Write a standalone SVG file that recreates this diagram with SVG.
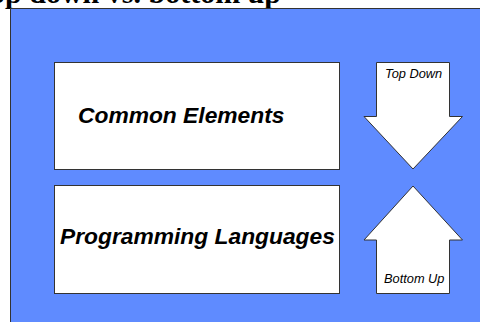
<svg xmlns="http://www.w3.org/2000/svg" width="480" height="322" viewBox="0 0 480 322">
<style>
.box{fill:#ffffff;stroke:#333333;stroke-width:1}
.big{font-family:"Liberation Sans",Arial,sans-serif;font-weight:bold;font-style:italic;font-size:22.8px;fill:#000}
.small{font-family:"Liberation Sans",Arial,sans-serif;font-style:italic;font-size:12.8px;fill:#000}
</style>
<rect x="0" y="0" width="480" height="322" fill="#ffffff"/>
<text x="281" y="3" text-anchor="end" font-family="Liberation Serif,'Times New Roman',serif" font-weight="bold" font-size="30" fill="#000">Top down vs. bottom up</text>
<rect id="panel" x="10.5" y="8.5" width="480" height="330" fill="#5F8BFF" stroke="#333333" stroke-width="1"/>
<g id="common-elements">
<rect class="box" x="54.5" y="62.5" width="285" height="107"/>
<text class="big" x="78" y="122.5">Common Elements</text>
</g>
<g id="programming-languages">
<rect class="box" x="54.5" y="185.5" width="285" height="108"/>
<text class="big" x="60" y="244">Programming Languages</text>
</g>
<g id="connectors">
<g id="top-down">
<polygon class="box" points="376.5,62.5 449.5,62.5 449.5,116.5 462.5,116.5 413,169 364,116.5 376.5,116.5"/>
<text class="small" x="385" y="78">Top Down</text>
</g>
<g id="bottom-up">
<polygon class="box" points="413,186 462.5,240 449.5,240 449.5,293.5 376.5,293.5 376.5,240 364,240"/>
<text class="small" x="384" y="283">Bottom Up</text>
</g>
</g>
</svg>
